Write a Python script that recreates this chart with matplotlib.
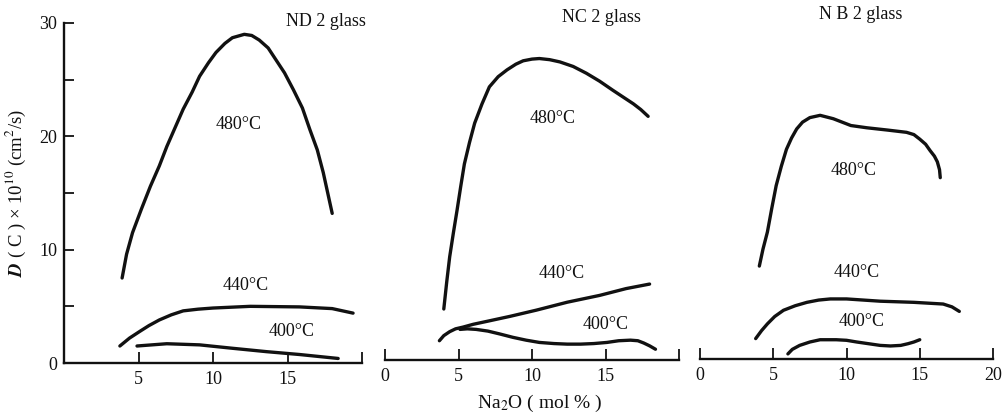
import numpy as np
import matplotlib
matplotlib.use('Agg')
from matplotlib import pyplot as plt

plt.rcParams['font.family'] = ['Liberation Serif', 'DejaVu Serif']
plt.rcParams['mathtext.fontset'] = 'stix'

# ND2 glass, D(C) x 1e10 (cm2/s) vs Na2O (mol%)
nd2_480_x = [3.9, 4.2, 4.6, 5.2, 5.8, 6.4, 6.9, 7.5, 8.0, 8.6, 9.1, 9.7, 10.2, 10.8, 11.3, 12.1, 12.6, 13.1, 13.7, 14.2, 14.8, 15.4, 16.0, 16.5, 17.0, 17.4, 17.7, 18.0]
nd2_480_y = [7.5, 9.6, 11.5, 13.6, 15.6, 17.4, 19.1, 20.9, 22.4, 23.9, 25.3, 26.5, 27.4, 28.2, 28.7, 29.0, 28.9, 28.5, 27.8, 26.8, 25.6, 24.1, 22.5, 20.6, 18.8, 16.8, 15.0, 13.2]
nd2_440_x = [3.75, 4.4, 5.1, 5.7, 6.4, 7.2, 8.0, 9.0, 10.0, 12.5, 15.8, 18.0, 19.4]
nd2_440_y = [1.5, 2.2, 2.8, 3.3, 3.8, 4.25, 4.6, 4.75, 4.85, 5.0, 4.95, 4.8, 4.4]
nd2_400_x = [4.9, 6.9, 9.1, 11.3, 13.6, 15.8, 18.4]
nd2_400_y = [1.5, 1.7, 1.6, 1.3, 1.0, 0.75, 0.4]

# NC2 glass
nc2_480_x = [4.0, 4.2, 4.4, 4.65, 4.9, 5.15, 5.4, 5.75, 6.1, 6.6, 7.1, 7.7, 8.3, 8.9, 9.4, 10.0, 10.5, 11.2, 11.9, 12.8, 13.7, 14.6, 15.5, 16.2, 16.9, 17.4, 17.9]
nc2_480_y = [4.5, 6.9, 9.1, 11.2, 13.2, 15.3, 17.3, 19.2, 20.9, 22.6, 24.1, 25.0, 25.6, 26.1, 26.4, 26.55, 26.6, 26.5, 26.3, 25.9, 25.3, 24.6, 23.8, 23.2, 22.6, 22.1, 21.5]
nc2_440_x = [3.7, 4.0, 4.4, 4.8, 5.3, 6.0, 6.9, 8.5, 10.3, 12.4, 14.6, 16.4, 18.0]
nc2_440_y = [1.7, 2.15, 2.5, 2.75, 2.9, 3.15, 3.4, 3.85, 4.4, 5.1, 5.7, 6.3, 6.7]
nc2_400_x = [5.1, 5.6, 6.2, 7.0, 7.8, 8.7, 9.6, 10.5, 11.5, 12.4, 13.3, 14.2, 15.1, 15.9, 16.7, 17.2, 17.6, 18.0, 18.4]
nc2_400_y = [2.7, 2.75, 2.7, 2.55, 2.3, 2.0, 1.75, 1.55, 1.45, 1.4, 1.4, 1.45, 1.55, 1.7, 1.75, 1.7, 1.5, 1.25, 0.95]

# NB2 glass
nb2_480_x = [4.05, 4.3, 4.6, 4.9, 5.2, 5.55, 5.9, 6.25, 6.6, 7.0, 7.5, 8.2, 9.1, 10.3, 11.4, 12.8, 14.1, 14.6, 15.0, 15.4, 15.7, 16.0, 16.2, 16.35, 16.4]
nb2_480_y = [8.2, 9.7, 11.2, 13.3, 15.3, 17.0, 18.5, 19.5, 20.3, 20.9, 21.3, 21.5, 21.2, 20.6, 20.4, 20.2, 20.0, 19.8, 19.4, 18.95, 18.4, 17.9, 17.4, 16.7, 16.0]
nb2_440_x = [3.8, 4.2, 4.6, 5.1, 5.7, 6.5, 7.3, 8.1, 8.9, 10.0, 12.3, 14.6, 16.6, 17.2, 17.7]
nb2_440_y = [1.8, 2.5, 3.1, 3.75, 4.3, 4.7, 5.0, 5.2, 5.3, 5.3, 5.1, 5.0, 4.85, 4.6, 4.2]
nb2_400_x = [6.0, 6.3, 6.8, 7.5, 8.2, 9.3, 10.0, 10.7, 11.5, 12.3, 13.0, 13.7, 14.2, 14.6, 15.0]
nb2_400_y = [0.45, 0.85, 1.2, 1.5, 1.7, 1.7, 1.65, 1.5, 1.35, 1.2, 1.15, 1.2, 1.35, 1.5, 1.7]

titles = ['ND 2 glass', 'NC 2 glass', 'N B 2 glass']
xtick_vals = [0, 5, 10, 15, 20]
xtick_labels = [['', '5', '10', '15', ''],
                ['0', '5', '10', '15', ''],
                ['0', '5', '10', '15', '20']]
ytick_vals = [0, 5, 10, 15, 20, 25, 30]
ytick_labels = ['0', '', '10', '', '20', '', '30']

panels = [
    [(nd2_480_x, nd2_480_y), (nd2_440_x, nd2_440_y), (nd2_400_x, nd2_400_y)],
    [(nc2_480_x, nc2_480_y), (nc2_440_x, nc2_440_y), (nc2_400_x, nc2_400_y)],
    [(nb2_480_x, nb2_480_y), (nb2_440_x, nb2_440_y), (nb2_400_x, nb2_400_y)],
]
# label positions (x, y in data units) for temperature tags
temps = ['480°C', '440°C', '400°C']
tag_pos = [
    [(11.7, 21.0), (12.2, 6.8), (15.3, 2.8)],
    [(11.4, 21.3), (12.0, 7.6), (15.0, 3.1)],
    [(10.5, 16.6), (10.7, 7.6), (11.0, 3.3)],
]
title_pos = [(17.6, 30.1), (14.7, 30.2), (11.0, 30.4)]

fig = plt.figure(figsize=(10.08, 4.13), dpi=100)
ax_rects = [
    [64 / 1008, 50 / 413, 298 / 1008, 340 / 413],
    [385 / 1008, 53 / 413, 294 / 1008, 340 / 413],
    [700 / 1008, 54 / 413, 293 / 1008, 340 / 413],
]

ink = '#111111'
for i in range(3):
    ax = fig.add_axes(ax_rects[i])
    for (xs, ys) in panels[i]:
        ax.plot(xs, ys, color=ink, lw=2.4, solid_capstyle='round', solid_joinstyle='round')
    for t, (tx, ty) in zip(temps, tag_pos[i]):
        ax.text(tx, ty, t, ha='center', va='center', fontsize=13, color=ink)
    ax.text(title_pos[i][0], title_pos[i][1], titles[i], ha='center', va='center',
            fontsize=13, color=ink, clip_on=False)
    ax.set_xlim(0, 20)
    ax.set_ylim(0, 30)
    ax.set_facecolor('none')
    for s in ['top', 'right']:
        ax.spines[s].set_visible(False)
    ax.spines['bottom'].set_linewidth(1.7)
    ax.spines['bottom'].set_color(ink)
    ax.set_xticks(xtick_vals)
    ax.set_xticklabels(xtick_labels[i])
    ax.tick_params(axis='x', direction='in', length=8, width=1.3, colors=ink,
                   labelsize=13, pad=6)
    if i == 0:
        ax.spines['left'].set_linewidth(1.7)
        ax.spines['left'].set_color(ink)
        ax.set_yticks(ytick_vals)
        ax.set_yticklabels(ytick_labels)
        ax.tick_params(axis='y', direction='in', length=7, width=1.3, colors=ink,
                       labelsize=13, pad=5)
        ax.set_ylabel(r'$\mathbfit{D}$ ( C ) × 10$^{10}$ (cm$^{2}$/s)', fontsize=13.5,
                      color=ink, labelpad=8)
    else:
        ax.spines['left'].set_visible(False)
        ax.set_yticks([])

fig.text(540 / 1008, 1 - 403 / 413, 'Na$_2$O ( mol % )', ha='center', va='center',
         fontsize=14, color=ink)

plt.savefig('out.png', dpi=100)
